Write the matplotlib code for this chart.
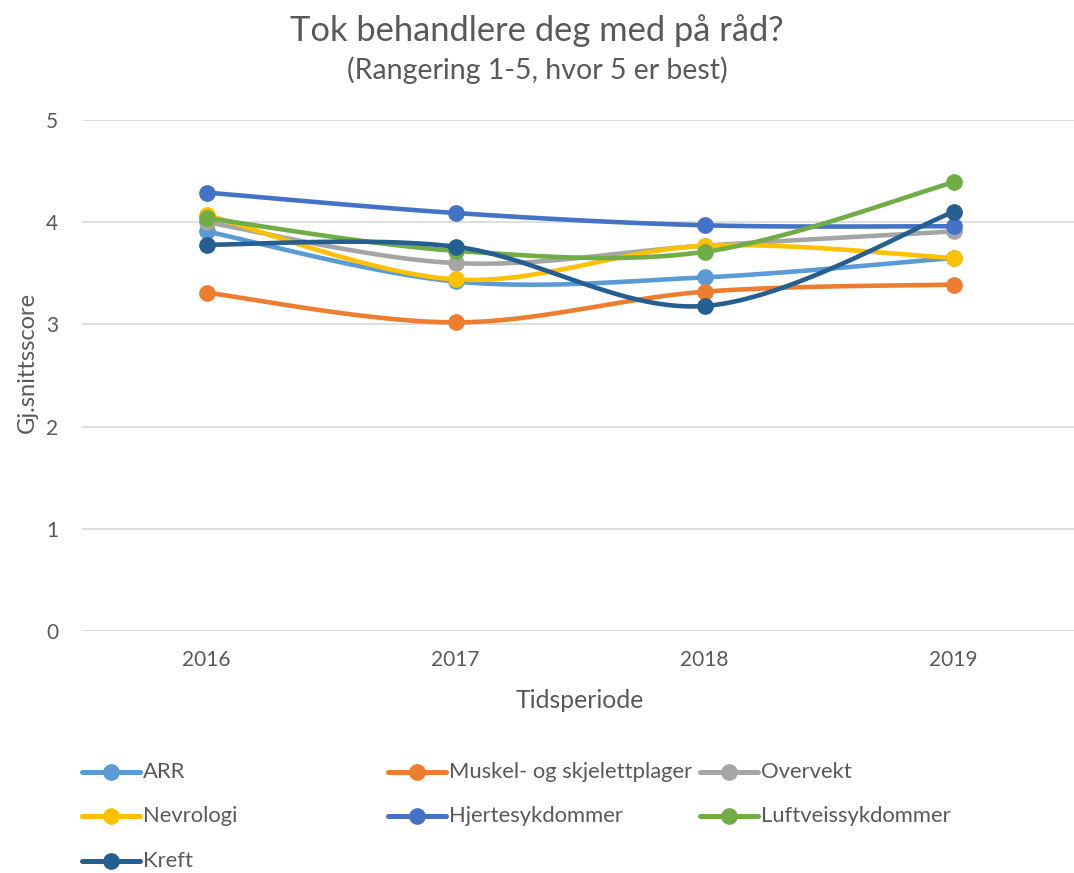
import numpy as np
import matplotlib
matplotlib.use("Agg")
from matplotlib import pyplot as plt
from matplotlib.lines import Line2D

plt.rcParams['font.family'] = ['Lato', 'DejaVu Sans']

years = ["2016", "2017", "2018", "2019"]
arr = [3.91, 3.42, 3.46, 3.65]
muskel = [3.31, 3.02, 3.32, 3.39]
overvekt = [4.00, 3.60, 3.77, 3.91]
nevrologi = [4.07, 3.44, 3.77, 3.65]
hjerte = [4.29, 4.09, 3.97, 3.96]
luftveis = [4.04, 3.72, 3.71, 4.39]
kreft = [3.78, 3.76, 3.18, 4.10]

series = [
    ("ARR", arr, "#5B9BD5"),
    ("Muskel- og skjelettplager", muskel, "#ED7D31"),
    ("Overvekt", overvekt, "#A5A5A5"),
    ("Nevrologi", nevrologi, "#FFC000"),
    ("Hjertesykdommer", hjerte, "#4472C4"),
    ("Luftveissykdommer", luftveis, "#70AD47"),
    ("Kreft", kreft, "#255E91"),
]

txt = "#595959"


def smooth(y, n=40):
    # catmull-rom style bezier like excel's smoothed line
    y = np.asarray(y, float)
    x = np.arange(len(y), dtype=float)
    pts = np.column_stack([x, y])
    out = []
    for i in range(len(pts) - 1):
        p0 = pts[max(i - 1, 0)]
        p1 = pts[i]
        p2 = pts[i + 1]
        p3 = pts[min(i + 2, len(pts) - 1)]
        c1 = p1 + (p2 - p0) / 6
        c2 = p2 - (p3 - p1) / 6
        t = np.linspace(0, 1, n)[:, None]
        seg = ((1 - t) ** 3) * p1 + 3 * ((1 - t) ** 2) * t * c1 + 3 * (1 - t) * t ** 2 * c2 + t ** 3 * p2
        out.append(seg if i == 0 else seg[1:])
    s = np.vstack(out)
    return s[:, 0], s[:, 1]


fig = plt.figure(figsize=(10.74, 8.73), dpi=100)
ax = fig.add_axes([82 / 1074, 242 / 873, 996 / 1074, 511 / 873])

for name, vals, col in series:
    sx, sy = smooth(vals)
    ax.plot(sx, sy, color=col, lw=3.3, solid_capstyle='round', zorder=3)
    ax.plot(range(len(vals)), vals, 'o', color=col, ms=11, zorder=4)

ax.set_xlim(-0.5, 3.5)
ax.set_ylim(0, 5)
ax.set_yticks(range(6))
ax.set_xticks(range(len(years)))
ax.set_xticklabels(years)
ax.grid(axis='y', color='#D9D9D9', lw=1.2)
ax.set_axisbelow(True)
for s in ax.spines.values():
    s.set_visible(False)
ax.tick_params(length=0, labelsize=15, labelcolor=txt, pad=14)
ax.tick_params(axis='y', pad=17)

fig.text(0.5, 1 - 31 / 873, "Tok behandlere deg med på råd?", ha='center', va='center',
         fontsize=24.8, color=txt)
fig.text(0.5, 1 - 70 / 873, "(Rangering 1-5, hvor 5 er best)", ha='center', va='center',
         fontsize=20.5, color=txt)
fig.text(580 / 1074, 1 - 700 / 873, "Tidsperiode", ha='center', va='center', fontsize=17.8, color=txt)
fig.text(27 / 1074, 1 - 362 / 873, "Gj.snittsscore", ha='center', va='center', rotation=90,
         fontsize=17, color=txt)

# legend drawn by hand to follow excel's layout
legend_pos = [(82, 772), (388, 772), (700, 772), (82, 816), (388, 816), (700, 816), (82, 861)]
for (name, vals, col), (lx, ly) in zip(series, legend_pos):
    yy = 1 - ly / 873
    fig.add_artist(Line2D([lx / 1074, (lx + 58) / 1074], [yy, yy], color=col, lw=3.6,
                          solid_capstyle='round', transform=fig.transFigure))
    fig.add_artist(Line2D([(lx + 29) / 1074], [yy], marker='o', ms=11, color=col,
                          transform=fig.transFigure))
    fig.text((lx + 61) / 1074, yy, name, ha='left', va='center', fontsize=15.8, color=txt)

fig.savefig("out.png", dpi=100)
